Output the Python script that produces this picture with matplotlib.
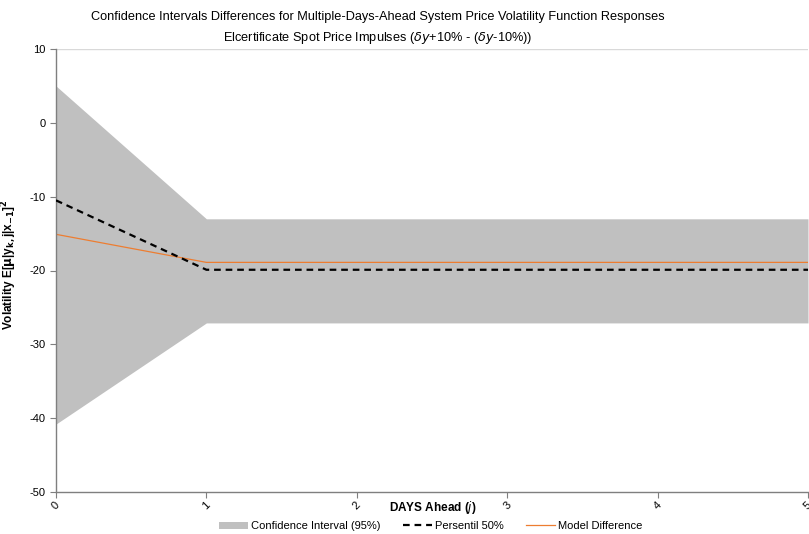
import matplotlib
matplotlib.use("Agg")
import matplotlib.pyplot as plt
from matplotlib.patches import Patch
from matplotlib.lines import Line2D

days = [0, 1, 2, 3, 4, 5]
ci_upper = [5.0, -13.0, -13.0, -13.0, -13.0, -13.0]
ci_lower = [-40.8, -27.1, -27.1, -27.1, -27.1, -27.1]
persentil_50 = [-10.5, -19.9, -19.9, -19.9, -19.9, -19.9]
model_diff = [-15.1, -18.9, -18.9, -18.9, -18.9, -18.9]
y_ticks = [10, 0, -10, -20, -30, -40, -50]

plt.rcParams['font.family'] = ['Liberation Sans', 'DejaVu Sans']

W, H = 809, 534
fig = plt.figure(figsize=(W / 100, H / 100), dpi=100)
ax = fig.add_axes([56 / W, 1 - 492 / H, (808 - 56) / W, (492 - 49) / H])

ax.fill_between(days, ci_lower, ci_upper, color='#c0c0c0', linewidth=0, zorder=1)
ax.plot(days, persentil_50, color='#000000', linestyle=(0, (3, 2.2)), linewidth=1.6, zorder=3)
ax.plot(days, model_diff, color='#ED7D31', linewidth=0.9, zorder=2)
ax.axhline(10, color='#d9d9d9', linewidth=1.0, zorder=0)

ax.set_xlim(0, 5)
ax.set_ylim(-50, 10)
ax.set_yticks(y_ticks)
ax.set_yticklabels([str(v) for v in y_ticks])
ax.set_xticks(days)
ax.set_xticklabels([str(d) for d in days], rotation=45, ha='center', va='top')

for s in ['top', 'right']:
    ax.spines[s].set_visible(False)
for s in ['left', 'bottom']:
    ax.spines[s].set_color('#7f7f7f')
    ax.spines[s].set_linewidth(1.0)
ax.tick_params(axis='both', colors='#7f7f7f', labelcolor='#000000', labelsize=8,
               length=4, width=0.8, direction='out')
ax.tick_params(axis='x', pad=2)

ax.set_ylabel(r'Volatility E[$\mathbf{\mu}$|y$_{\mathbf{k,}}$j|x$_{\mathbf{-1}}$]$^{\mathbf{2}}$',
              fontsize=8.5, fontweight='bold')
ax.yaxis.set_label_coords(-0.049, 0.512)
fig.text(433 / W, 1 - 507 / H, r'DAYS Ahead ($\mathbf{\mathit{j}}$)', ha='center', va='center',
         fontsize=8.5, fontweight='bold')

title_font = ['Liberation Sans', 'DejaVu Sans']
fig.text(378 / W, 1 - 17 / H,
         'Confidence Intervals Differences for Multiple-Days-Ahead System Price Volatility Function Responses',
         ha='center', va='center', fontsize=9.2, family=title_font)
fig.text(378 / W, 1 - 38 / H,
         r'Elcertificate Spot Price Impulses ($\delta y$+10% - ($\delta y$-10%))',
         ha='center', va='center', fontsize=9.2, family=title_font)

handles = [Patch(facecolor='#c0c0c0', edgecolor='none'),
           Line2D([], [], color='#000000', linestyle=(0, (3, 2.2)), linewidth=1.6),
           Line2D([], [], color='#ED7D31', linewidth=0.9)]
labels = ['Confidence Interval (95%)', 'Persentil 50%', 'Model Difference']
fig.legend(handles, labels, loc='center', bbox_to_anchor=(431 / W, 1 - 526 / H), ncol=3,
           frameon=False, fontsize=8, handlelength=2.6, handleheight=0.6, columnspacing=2.0,
           handletextpad=0.3)

fig.savefig('out.png', dpi=100)
